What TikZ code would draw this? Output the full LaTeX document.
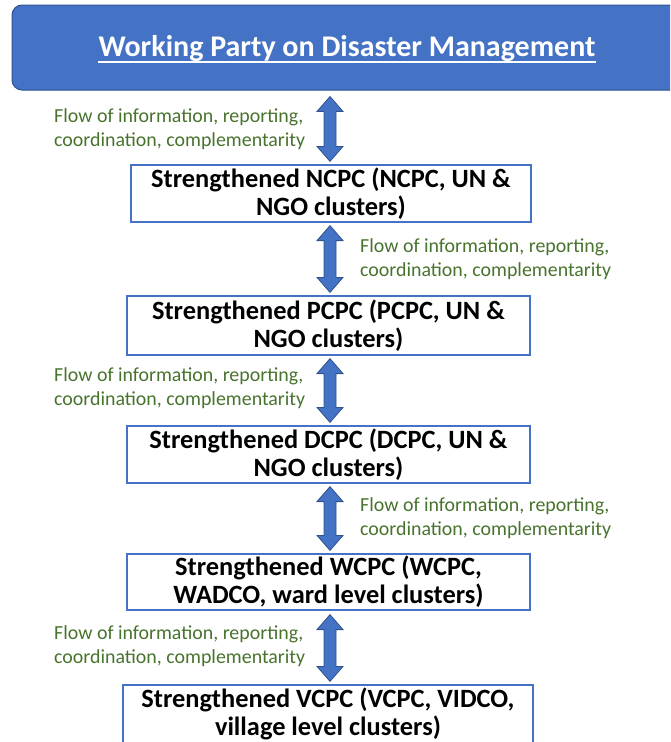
\documentclass[tikz,border=0pt]{standalone}
\usepackage{fontspec}
\setmainfont{Carlito}
\usetikzlibrary{calc}

\definecolor{accentblue}{HTML}{4472C4}
\definecolor{edgeblue}{HTML}{2F528F}
\definecolor{notegreen}{HTML}{48732D}

\tikzset{
  banner/.style={rounded corners=10pt, fill=accentblue, draw=edgeblue, line width=1pt},
  levelbox/.style={draw=accentblue, fill=white, line width=1.2pt, inner sep=0pt,
    align=center, font=\fontsize{26.4}{28}\selectfont\bfseries},
  note/.style={text=notegreen, align=left, anchor=west, inner sep=0pt,
    font=\fontsize{19.9}{24}\selectfont},
  flowarrow/.style={fill=accentblue, draw=edgeblue, line width=0.8pt, line join=miter}
}

% vertical double-headed block arrow between two points (top #1, bottom #2)
\newcommand\flowlink[2]{%
  \draw[flowarrow] let \p1=(#1), \p2=(#2) in
    (\x1,\y1) -- (\x1+13pt,\y1-15pt) -- (\x1+6pt,\y1-15pt) -- (\x1+6pt,\y2+15pt)
    -- (\x1+13pt,\y2+15pt) -- (\x1,\y2) -- (\x1-13pt,\y2+15pt) -- (\x1-6pt,\y2+15pt)
    -- (\x1-6pt,\y1-15pt) -- (\x1-13pt,\y1-15pt) -- cycle;}

\begin{document}
\begin{tikzpicture}[x=1pt,y=-1pt]
\useasboundingbox (0,0) rectangle (670,742);
\clip (0,0) rectangle (670,742);

% top banner
\node[banner, minimum width=670pt, minimum height=85pt] (wp) at (347,47.5) {};
\node[text=white, inner sep=0pt, font=\fontsize{30}{34}\selectfont\bfseries] (title) at (347,49)
  {Working Party on Disaster Management};
\draw[white, line width=2pt] ([yshift=-5pt]title.base west) -- ([yshift=-5pt]title.base east);

% committee levels
\node[levelbox, minimum width=400pt, minimum height=57pt] (ncpc) at (331,193.5)
  {Strengthened NCPC (NCPC, UN \&\\NGO clusters)};
\node[levelbox, minimum width=403pt, minimum height=59pt] (pcpc) at (328.5,325.5)
  {Strengthened PCPC (PCPC, UN \&\\NGO clusters)};
\node[levelbox, minimum width=403pt, minimum height=57pt] (dcpc) at (328.5,454.5)
  {Strengthened DCPC (DCPC, UN \&\\NGO clusters)};
\node[levelbox, minimum width=403pt, minimum height=56pt] (wcpc) at (328.5,582)
  {Strengthened WCPC (WCPC,\\WADCO, ward level clusters)};
\node[levelbox, minimum width=410pt, minimum height=58pt] (vcpc) at (328,714)
  {Strengthened VCPC (VCPC, VIDCO,\\village level clusters)};

% block arrows between levels
\coordinate (a1t) at ($(wp.south -| 330,0)+(0,6)$);
\coordinate (a1b) at ($(ncpc.north -| 330,0)+(0,-3)$);
\flowlink{a1t}{a1b}
\coordinate (a2t) at ($(ncpc.south -| 330,0)+(0,3)$);
\coordinate (a2b) at ($(pcpc.north -| 330,0)+(0,-3)$);
\flowlink{a2t}{a2b}
\coordinate (a3t) at ($(pcpc.south -| 330,0)+(0,3)$);
\coordinate (a3b) at ($(dcpc.north -| 330,0)+(0,-3)$);
\flowlink{a3t}{a3b}
\coordinate (a4t) at ($(dcpc.south -| 330,0)+(0,3)$);
\coordinate (a4b) at ($(wcpc.north -| 330,0)+(0,-3)$);
\flowlink{a4t}{a4b}
\coordinate (a5t) at ($(wcpc.south -| 330,0)+(0,4)$);
\coordinate (a5b) at ($(vcpc.north -| 330,0)+(0,-3)$);
\flowlink{a5t}{a5b}

% arrow notes
\node[note] (n1) at (54,129) {Flow of information, reporting,\\coordination, complementarity};
\node[note] (n2) at (360,259) {Flow of information, reporting,\\coordination, complementarity};
\node[note] (n3) at (54,388) {Flow of information, reporting,\\coordination, complementarity};
\node[note] (n4) at (360,518) {Flow of information, reporting,\\coordination, complementarity};
\node[note] (n5) at (54,646) {Flow of information, reporting,\\coordination, complementarity};
\end{tikzpicture}
\end{document}
